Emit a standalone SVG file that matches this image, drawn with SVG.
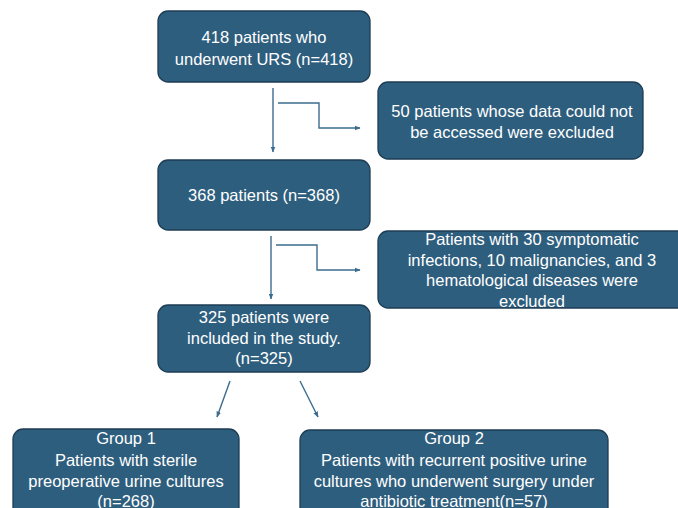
<svg xmlns="http://www.w3.org/2000/svg" width="678" height="508" viewBox="0 0 678 508">
<defs>
<style>
.box{fill:#2e5e7e;stroke:#1c3d54;stroke-width:1.3}
.t{fill:#ffffff;font-family:"Liberation Sans",Arial,sans-serif;font-size:16.5px;text-anchor:middle}
.c{fill:none;stroke:#3b6c8e;stroke-width:1.4}
</style>
<marker id="ah" viewBox="0 0 10 10" refX="9" refY="5" markerWidth="6" markerHeight="6" orient="auto" markerUnits="userSpaceOnUse"><path d="M0,1 L10,5 L0,9 Z" fill="#3b6c8e"/></marker>
</defs>
<rect width="678" height="508" fill="#ffffff"/>
<g id="connectors">
<line class="c" x1="273" y1="88" x2="273" y2="152" marker-end="url(#ah)"/>
<polyline class="c" points="278,103 319,103 319,128 360,128" marker-end="url(#ah)"/>
<line class="c" x1="271" y1="236" x2="271" y2="299" marker-end="url(#ah)"/>
<polyline class="c" points="276,245 317,245 317,270 360,270" marker-end="url(#ah)"/>
<line class="c" x1="230" y1="381" x2="217" y2="417" marker-end="url(#ah)"/>
<line class="c" x1="300" y1="381" x2="318" y2="417" marker-end="url(#ah)"/>
</g>
<g id="n1">
<rect class="box" x="158" y="11" width="212" height="71" rx="10"/>
<text class="t" x="264" y="43">418 patients who</text>
<text class="t" x="264" y="65">underwent URS (n=418)</text>
</g>
<g id="n2">
<rect class="box" x="378" y="82" width="265" height="77" rx="10"/>
<text class="t" x="512" y="117">50 patients whose data could not</text>
<text class="t" x="512" y="138">be accessed were excluded</text>
</g>
<g id="n3">
<rect class="box" x="158" y="160" width="212" height="70" rx="10"/>
<text class="t" x="264" y="201">368 patients (n=368)</text>
</g>
<g id="n4">
<rect class="box" x="378" y="231" width="310" height="77" rx="10"/>
<text class="t" x="532" y="245">Patients with 30 symptomatic</text>
<text class="t" x="532" y="266">infections, 10 malignancies, and 3</text>
<text class="t" x="532" y="286">hematological diseases were</text>
<text class="t" x="532" y="307">excluded</text>
</g>
<g id="n5">
<rect class="box" x="158" y="305" width="212" height="67" rx="10"/>
<text class="t" x="264" y="323">325 patients were</text>
<text class="t" x="264" y="344">included in the study.</text>
<text class="t" x="264" y="364">(n=325)</text>
</g>
<g id="n6">
<rect class="box" x="13" y="429" width="226" height="100" rx="10"/>
<text class="t" x="126" y="444">Group 1</text>
<text class="t" x="126" y="466">Patients with sterile</text>
<text class="t" x="126" y="487">preoperative urine cultures</text>
<text class="t" x="126" y="507">(n=268)</text>
</g>
<g id="n7">
<rect class="box" x="300" y="430" width="308" height="100" rx="10"/>
<text class="t" x="454" y="444">Group 2</text>
<text class="t" x="454" y="466">Patients with recurrent positive urine</text>
<text class="t" x="454" y="487">cultures who underwent surgery under</text>
<text class="t" x="454" y="507">antibiotic treatment(n=57)</text>
</g>
</svg>
